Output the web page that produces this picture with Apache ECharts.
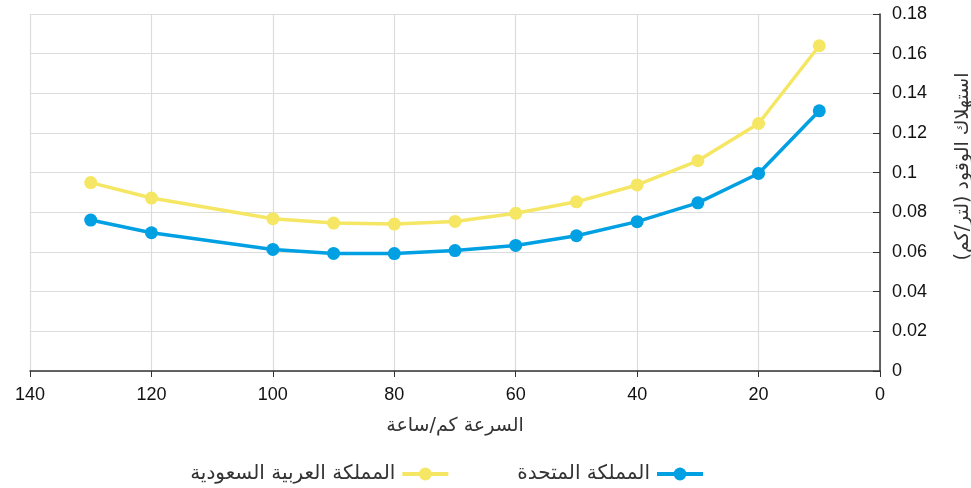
<!DOCTYPE html>
<html>
<head>
<meta charset="utf-8">
<script src="https://cdn.jsdelivr.net/npm/echarts@6/dist/echarts.min.js"></script>
<style>
  html, body { margin: 0; padding: 0; background: #fff; }
  #chart { width: 971px; height: 488px; }
</style>
</head>
<body>
<div id="chart"></div>
<script>
// Speed (km/h) at which fuel use was measured
const speeds = [130, 120, 100, 90, 80, 70, 60, 50, 40, 30, 20, 10];
// Fuel consumption, litres per km
const saudiArabia = [0.095, 0.0872, 0.0768, 0.0746, 0.0741, 0.0754, 0.0795, 0.0853, 0.0938, 0.106, 0.1248, 0.164];
const unitedKingdom = [0.0761, 0.0697, 0.0613, 0.0593, 0.0592, 0.0607, 0.0633, 0.0682, 0.0753, 0.0848, 0.0996, 0.1312];

const seriesNames = ['المملكة العربية السعودية', 'المملكة المتحدة'];
const xAxisTitle = 'السرعة كم/ساعة';
const yAxisTitle = 'استهلاك الوقود (لتر/كم)';

const arabicFont = '"DejaVu Sans", "Noto Sans", sans-serif';
const numFont = '"Liberation Sans", Arial, sans-serif';

const pairs = (xs, ys) => xs.map((x, i) => [x, ys[i]]);

const chart = echarts.init(document.getElementById('chart'), null, { renderer: 'canvas' });
chart.setOption({
  animation: false,
  grid: { left: 30, right: 91, top: 14, bottom: 117, containLabel: false, outerBoundsMode: 'none' },
  legend: {
    bottom: 4,
    right: 266,
    padding: 0,
    align: 'right',
    itemWidth: 46,
    itemHeight: 16,
    itemGap: 67,
    data: seriesNames,
    lineStyle: { width: 4 },
    textStyle: { fontFamily: arabicFont, fontSize: 20, color: '#333', padding: [0, 2, 0, 0] }
  },
  xAxis: {
    type: 'value',
    inverse: true,
    min: 0,
    max: 140,
    interval: 20,
    name: xAxisTitle,
    nameLocation: 'middle',
    nameGap: 46,
    nameTextStyle: { fontFamily: arabicFont, fontSize: 19, color: '#333' },
    axisLine: { show: true, lineStyle: { color: '#333', width: 1.5 } },
    axisTick: { show: true, length: 6, lineStyle: { color: '#333' } },
    axisLabel: { fontFamily: numFont, fontSize: 18, color: '#111', margin: 15 },
    splitLine: { show: true, lineStyle: { color: '#dcdcdc', width: 1.2 } }
  },
  yAxis: {
    type: 'value',
    position: 'right',
    min: 0,
    max: 0.18,
    interval: 0.02,
    name: yAxisTitle,
    nameLocation: 'middle',
    nameRotate: 90,
    nameGap: 74,
    nameTextStyle: { fontFamily: arabicFont, fontSize: 19, color: '#333', padding: [0, 0, 0, 52] },
    axisLine: { show: true, lineStyle: { color: '#333', width: 1.5 } },
    axisTick: { show: true, inside: true, length: 7, lineStyle: { color: '#333' } },
    axisLabel: { fontFamily: numFont, fontSize: 18, color: '#111', margin: 12 },
    splitLine: { show: true, lineStyle: { color: '#dcdcdc', width: 1.2 } }
  },
  series: [
    {
      name: seriesNames[0],
      type: 'line',
      data: pairs(speeds, saudiArabia),
      symbol: 'circle',
      symbolSize: 13,
      lineStyle: { color: '#F5E663', width: 3.5 },
      itemStyle: { color: '#F5E663' },
      z: 2
    },
    {
      name: seriesNames[1],
      type: 'line',
      data: pairs(speeds, unitedKingdom),
      symbol: 'circle',
      symbolSize: 13,
      lineStyle: { color: '#00A0E3', width: 3.5 },
      itemStyle: { color: '#00A0E3' },
      z: 3
    }
  ]
});
</script>
</body>
</html>
